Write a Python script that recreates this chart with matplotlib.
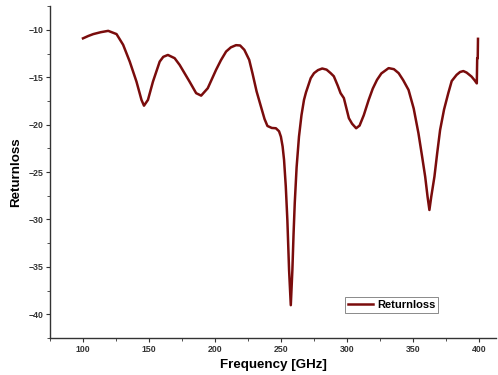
import matplotlib
matplotlib.use("Agg")
import matplotlib.pyplot as plt
from matplotlib.ticker import MultipleLocator

# values
freq = [100.0, 104.0, 107.8, 113.5, 119.1, 125.4, 130.4, 135.4, 140.5, 144.3,
        146.2, 149.2, 153.0, 158.1, 160.8, 164.3, 169.4, 173.2, 176.9, 180.7,
        185.7, 189.5, 194.5, 200.8, 204.5, 208.4, 212.0, 215.9, 219.0, 222.2,
        225.9, 228.4, 231.5, 234.8, 237.5, 239.7, 243.0, 246.1, 248.5, 249.9,
        251.2, 252.3, 253.6, 254.8, 256.1, 257.4, 258.6, 259.5, 260.4, 261.8,
        263.6, 265.5, 267.4, 268.9, 272.5, 275.0, 278.0, 281.2, 284.5, 287.6,
        290.0, 293.0, 295.1, 297.6, 301.4, 303.8, 306.9, 309.5, 312.7, 316.4,
        319.5, 322.7, 326.0, 331.5, 335.5, 339.1, 342.5, 346.6, 350.5, 354.1,
        356.8, 359.2, 361.0, 362.4, 363.8, 366.2, 368.3, 370.5, 373.5, 376.7,
        379.3, 383.0, 385.6, 388.1, 390.6, 394.3, 396.5, 398.3, 398.6, 399.0,
        399.2]
rloss = [-10.9, -10.65, -10.45, -10.25, -10.11, -10.45, -11.58, -13.35, -15.46, -17.39,
         -18.0, -17.39, -15.46, -13.35, -12.85, -12.65, -12.99, -13.70, -14.57, -15.46,
         -16.68, -16.94, -16.16, -14.22, -13.2, -12.29, -11.85, -11.62, -11.65, -12.11,
         -13.17, -14.6, -16.5, -18.10, -19.4, -20.14, -20.35, -20.38, -20.7, -21.27,
         -22.3, -23.73, -26.5, -30.06, -35.34, -39.04, -35.34, -31.5, -28.27, -24.5,
         -21.27, -19.0, -17.39, -16.6, -15.10, -14.57, -14.25, -14.08, -14.2, -14.57,
         -14.9, -15.9, -16.68, -17.2, -19.32, -19.9, -20.38, -20.1, -19.0, -17.39,
         -16.2, -15.28, -14.6, -14.04, -14.15, -14.57, -15.3, -16.34, -18.3, -20.91,
         -23.3, -25.49, -27.6, -29.0, -27.6, -25.49, -23.0, -20.56, -18.4, -16.68,
         -15.4, -14.75, -14.45, -14.35, -14.51, -14.93, -15.3, -15.65, -13.0, -13.0,
         -10.95]

plt.rcParams["font.family"] = ["Liberation Sans", "DejaVu Sans"]

fig = plt.figure(figsize=(4.98, 3.75), dpi=100)
ax = fig.add_axes([0.1004, 0.0987, 0.896, 0.885])

ax.plot(freq, rloss, color="#7a0c0c", linewidth=1.8, label="Returnloss",
        solid_joinstyle="round")

ax.set_xlim(75, 413)
ax.set_ylim(-42.5, -7.5)
ax.xaxis.set_major_locator(MultipleLocator(50))
ax.xaxis.set_minor_locator(MultipleLocator(25))
ax.yaxis.set_major_locator(MultipleLocator(5))
ax.yaxis.set_minor_locator(MultipleLocator(2.5))

for s in ["top", "right"]:
    ax.spines[s].set_visible(False)
for s in ["left", "bottom"]:
    ax.spines[s].set_linewidth(1.0)
    ax.spines[s].set_color("#333333")

ax.tick_params(which="major", length=3, width=0.8, labelsize=6.3, colors="#333333", pad=2)
ax.tick_params(which="minor", length=2, width=0.6, colors="#333333")
for lbl in ax.get_xticklabels() + ax.get_yticklabels():
    lbl.set_fontweight("bold")

ax.set_xlabel("Frequency [GHz]", fontsize=9.6, fontweight="bold", labelpad=4)
ax.set_ylabel("Returnloss", fontsize=9.6, fontweight="bold", labelpad=4)

leg = ax.legend(loc="center", bbox_to_anchor=(0.766, 0.10),
                prop={"weight": "bold", "size": 8}, frameon=True, fancybox=False,
                handlelength=2.2, borderpad=0.25, handletextpad=0.4)
leg.get_frame().set_edgecolor("#555555")
leg.get_frame().set_linewidth(0.6)

fig.savefig("out.png", dpi=100)
